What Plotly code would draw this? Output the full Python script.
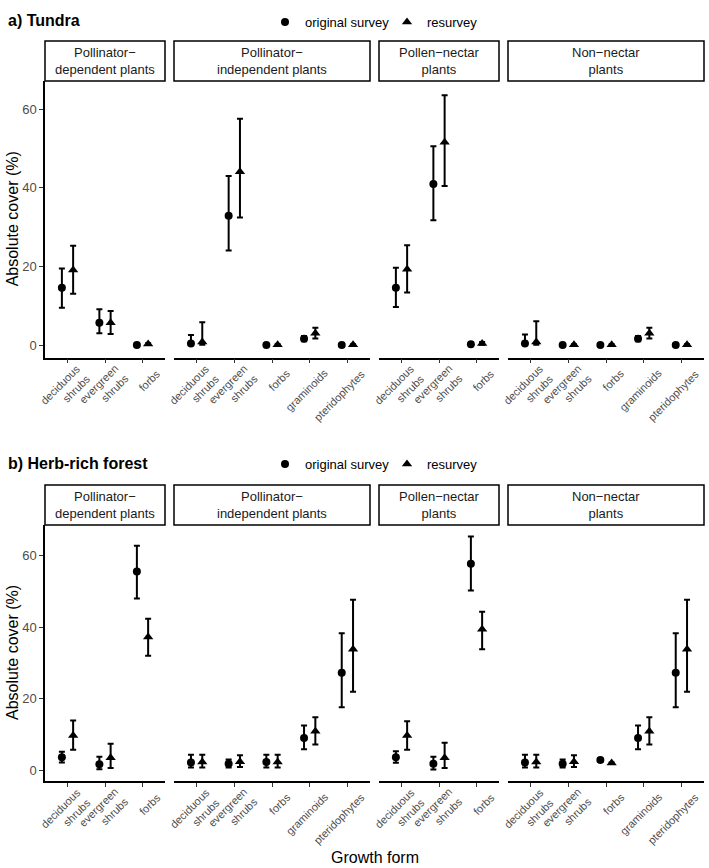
import plotly.graph_objects as go

# ---------------- data ----------------
facet_names = ["Pollinator−<br>dependent plants", "Pollinator−<br>independent plants",
               "Pollen−nectar<br>plants", "Non−nectar<br>plants"]
facet_cats = [
    ["deciduous<br>shrubs", "evergreen<br>shrubs", "forbs"],
    ["deciduous<br>shrubs", "evergreen<br>shrubs", "forbs", "graminoids", "pteridophytes"],
    ["deciduous<br>shrubs", "evergreen<br>shrubs", "forbs"],
    ["deciduous<br>shrubs", "evergreen<br>shrubs", "forbs", "graminoids", "pteridophytes"],
]
panel_titles = ["<b>a) Tundra</b>", "<b>b) Herb-rich forest</b>"]

# values concatenated over the four facets (3 + 5 + 3 + 5 categories)
tundra_orig_mean = [14.6, 5.7, 0.05, 0.4, 32.9, 0.05, 1.6, 0.05, 14.6, 41.0, 0.2, 0.4, 0.05, 0.05, 1.6, 0.05]
tundra_orig_lo   = [9.5, 3.0, 0.0, 0.0, 24.1, 0.0, 1.0, 0.0, 9.7, 31.8, 0.1, 0.0, 0.0, 0.0, 1.0, 0.0]
tundra_orig_hi   = [19.5, 9.1, 0.1, 2.6, 43.0, 0.1, 2.3, 0.1, 19.7, 50.6, 0.3, 2.7, 0.1, 0.1, 2.3, 0.1]
tundra_re_mean   = [19.1, 5.7, 0.3, 0.8, 44.1, 0.1, 3.0, 0.1, 19.3, 51.6, 0.4, 0.8, 0.1, 0.1, 3.0, 0.1]
tundra_re_lo     = [13.1, 2.8, 0.1, 0.1, 32.5, 0.0, 1.7, 0.0, 13.4, 40.5, 0.1, 0.1, 0.0, 0.0, 1.7, 0.0]
tundra_re_hi     = [25.3, 8.7, 0.5, 5.8, 57.6, 0.2, 4.4, 0.2, 25.4, 63.6, 0.8, 6.1, 0.2, 0.2, 4.4, 0.2]

forest_orig_mean = [3.6, 1.7, 55.5, 2.2, 1.8, 2.3, 9.0, 27.2, 3.6, 1.8, 57.7, 2.2, 1.8, 2.9, 9.0, 27.2]
forest_orig_lo   = [2.2, 0.3, 48.0, 0.8, 0.8, 0.8, 5.9, 17.6, 2.1, 0.2, 50.2, 0.8, 0.8, 2.5, 5.9, 17.6]
forest_orig_hi   = [5.2, 3.8, 62.7, 4.3, 3.0, 4.3, 12.5, 38.3, 5.3, 3.8, 65.3, 4.3, 3.0, 3.3, 12.5, 38.3]
forest_re_mean   = [9.7, 3.5, 37.2, 2.3, 2.4, 2.3, 10.9, 33.8, 9.7, 3.5, 39.4, 2.3, 2.4, 2.0, 10.9, 33.8]
forest_re_lo     = [5.7, 0.6, 32.0, 0.8, 0.9, 0.8, 7.2, 21.9, 5.7, 0.6, 33.8, 0.8, 0.9, 1.8, 7.2, 21.9]
forest_re_hi     = [13.9, 7.4, 42.3, 4.3, 4.2, 4.3, 14.8, 47.6, 13.7, 7.7, 44.3, 4.3, 4.2, 2.2, 14.8, 47.6]

y_ticks = [0, 20, 40, 60]

panels = [
    dict(orig=(tundra_orig_mean, tundra_orig_lo, tundra_orig_hi),
         re=(tundra_re_mean, tundra_re_lo, tundra_re_hi), yrange=[-3.2, 67.2]),
    dict(orig=(forest_orig_mean, forest_orig_lo, forest_orig_hi),
         re=(forest_re_mean, forest_re_lo, forest_re_hi), yrange=[-3.0, 68.5]),
]

# ---------------- layout geometry (px) ----------------
W, H = 709, 868
facet_px = [(45, 165), (174, 370), (379, 499), (508, 704)]
plot_py = [(81, 357.7), (525, 781)]
strip_py = [(41, 81), (485, 525)]
title_py = [21, 463]
legend_px = {"orig": 265, "re": 387}
FONT = "Liberation Sans, Arial, sans-serif"
GREY = "#4d4d4d"
DODGE = 0.15
LAB_DX, LAB_DY, LAB_LH = 17.0, 13.0, 14.0   # rotated tick label anchor offsets


def fx(px):
    return px / W


def fy(py):
    return 1 - py / H


fig = go.Figure()
layout = dict(width=W, height=H, margin=dict(l=0, r=0, t=0, b=0),
              plot_bgcolor="white", paper_bgcolor="white",
              font=dict(family=FONT, color="black"), shapes=[], annotations=[])

series = [("orig", "original survey", "circle", 8, -DODGE),
          ("re", "resurvey", "triangle-up", 9, DODGE)]

legend_counter = 0
for p, panel in enumerate(panels):
    legend_names = {}
    for key, _, _, _, _ in series:
        legend_counter += 1
        lname = "legend" if legend_counter == 1 else f"legend{legend_counter}"
        legend_names[key] = lname
        layout[lname] = dict(orientation="h", x=fx(legend_px[key]), y=fy(title_py[p] + 1),
                             xanchor="left", yanchor="middle", bgcolor="rgba(0,0,0,0)",
                             font=dict(size=13, family=FONT, color="black"))
    start = 0
    for f, cats in enumerate(facet_cats):
        n = len(cats)
        k = p * 4 + f + 1
        xa = "x" if k == 1 else f"x{k}"
        ya = "y" if k == 1 else f"y{k}"
        for key, label, sym, size, off in series:
            mean, lo, hi = panel[key]
            m = mean[start:start + n]
            l = lo[start:start + n]
            h = hi[start:start + n]
            fig.add_trace(go.Scatter(
                x=[i + 1 + off for i in range(n)], y=m, mode="markers",
                marker=dict(symbol=sym, size=size, color="black"),
                error_y=dict(type="data", symmetric=False,
                             array=[hh - mm for hh, mm in zip(h, m)],
                             arrayminus=[mm - ll for mm, ll in zip(m, l)],
                             thickness=2, width=3, color="black"),
                name=label, showlegend=(f == 0), legend=legend_names[key],
                xaxis=xa, yaxis=ya))
        start += n

        x0, x1 = facet_px[f]
        y0, y1 = plot_py[p]
        xkey = "xaxis" if k == 1 else f"xaxis{k}"
        ykey = "yaxis" if k == 1 else f"yaxis{k}"
        layout[xkey] = dict(domain=[fx(x0), fx(x1)], anchor=ya, range=[0.4, n + 0.6],
                            tickvals=list(range(1, n + 1)), showticklabels=False,
                            ticks="outside", ticklen=4, tickcolor="#333333",
                            showline=True, linecolor="black", linewidth=1.5,
                            showgrid=False, zeroline=False)
        # rotated two-line tick labels (right-aligned, 45 degrees)
        for i, lab in enumerate(cats):
            nl = lab.count("<br>") + 1
            hh = nl * LAB_LH
            layout["annotations"].append(dict(
                text=lab, xref=xa, yref="paper", x=i + 1,
                y=fy(y1 + LAB_DY - 0.354 * hh), xshift=LAB_DX + 0.354 * hh,
                xanchor="right", yanchor="top", align="right", textangle=-45,
                showarrow=False, borderpad=0,
                font=dict(size=11, color=GREY, family=FONT)))
        if f == 0:
            layout[ykey] = dict(domain=[fy(y1), fy(y0)], anchor=xa, range=panel["yrange"],
                                tickvals=y_ticks, ticks="outside", ticklen=4,
                                tickcolor="#333333",
                                tickfont=dict(size=13, color=GREY, family=FONT),
                                showline=True, linecolor="black", linewidth=1.5,
                                showgrid=False, zeroline=False)
        else:
            layout[ykey] = dict(domain=[fy(y1), fy(y0)], anchor=xa, range=panel["yrange"],
                                showticklabels=False, ticks="", showline=False,
                                showgrid=False, zeroline=False)
        # strip
        s0, s1 = strip_py[p]
        layout["shapes"].append(dict(type="rect", xref="paper", yref="paper",
                                     x0=fx(x0), x1=fx(x1), y0=fy(s1), y1=fy(s0),
                                     line=dict(color="black", width=1.5), fillcolor="white"))
        layout["annotations"].append(dict(text=facet_names[f], xref="paper", yref="paper",
                                          x=fx((x0 + x1) / 2), y=fy((s0 + s1) / 2),
                                          xanchor="center", yanchor="middle", showarrow=False,
                                          font=dict(size=13, color="#1a1a1a", family=FONT)))
    # panel title
    layout["annotations"].append(dict(text=panel_titles[p], xref="paper", yref="paper",
                                      x=fx(6), y=fy(title_py[p]), xanchor="left",
                                      yanchor="middle", showarrow=False,
                                      font=dict(size=16, color="black", family=FONT)))
    # y axis title
    layout["annotations"].append(dict(text="Absolute cover (%)", xref="paper", yref="paper",
                                      x=fx(12), y=fy(sum(plot_py[p]) / 2), xanchor="center",
                                      yanchor="middle", textangle=-90, showarrow=False,
                                      font=dict(size=16, color="black", family=FONT)))

layout["annotations"].append(dict(text="Growth form", xref="paper", yref="paper",
                                  x=fx(375), y=fy(857), xanchor="center", yanchor="middle",
                                  showarrow=False, font=dict(size=16, color="black", family=FONT)))

fig.update_layout(**layout)
fig.write_html("out.html")
